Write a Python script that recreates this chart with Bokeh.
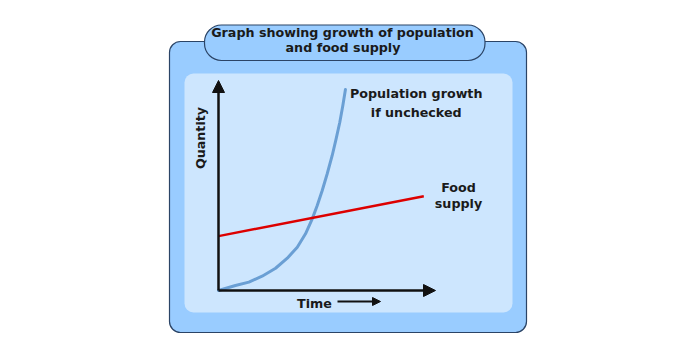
import math
from bokeh.plotting import figure
from bokeh.models import Range1d, BoxAnnotation, Arrow, NormalHead
from bokeh.core.properties import value
from bokeh.embed import file_html
from bokeh.resources import INLINE

# ---- data (chart units: time 0..10 along x-axis, quantity 0..10 up y-axis) ----
pop_time = [0.0, 0.78, 1.40, 2.01, 2.63, 3.17, 3.63, 4.01, 4.32, 4.55, 4.78, 5.01, 5.24, 5.42, 5.59, 5.73, 5.85]
pop_qty = [0.0, 0.24, 0.40, 0.68, 1.06, 1.54, 2.06, 2.70, 3.41, 4.05, 4.76, 5.56, 6.43, 7.22, 8.01, 8.81, 9.57]
food_time = [0.0, 9.46]
food_qty = [2.59, 4.49]
axis_end = [10.0, 10.0]

title_lines = ["Graph showing growth of population", "and food supply"]
pop_label = ["Population growth", "if unchecked"]
food_label = ["Food", "supply"]
x_label = "Time"
y_label = "Quantity"

# ---- layout (page pixel frame) ----
W, H = 665, 345
FONT = value("DejaVu Sans")
FS = "12.7px"

p = figure(width=W, height=H, x_range=Range1d(0, W), y_range=Range1d(H, 0),
           x_axis_location=None, y_axis_location=None, min_border=0,
           toolbar_location=None, output_backend="svg")
p.grid.visible = False
p.outline_line_color = None
p.background_fill_color = "white"
p.border_fill_color = "white"

# chart-space ranges: origin at (218, 290), 21.7 px per time unit, 21 px per quantity unit
ox, oy, sx, sy = 218.0, 290.0, 21.7, 21.0
p.extra_x_ranges = {"chart": Range1d((0 - ox) / sx, (W - ox) / sx)}
p.extra_y_ranges = {"chart": Range1d((oy - H) / sy, (oy - 0) / sy)}

# boxes
p.add_layout(BoxAnnotation(left=169, right=526, top=41, bottom=332, border_radius=11,
                           fill_color="#99ccff", fill_alpha=1, line_color="#2b4466",
                           line_alpha=1, line_width=1.2, level="underlay"))
p.add_layout(BoxAnnotation(left=184, right=512, top=73, bottom=312, border_radius=9,
                           fill_color="#cde6fe", fill_alpha=1, line_color=None,
                           level="underlay"))
p.add_layout(BoxAnnotation(left=204, right=484.5, top=24.5, bottom=60, border_radius=17,
                           fill_color="#99ccff", fill_alpha=1, line_color="#2b4466",
                           line_alpha=1, line_width=1.2, level="underlay"))

# curves
p.line(pop_time, pop_qty, x_range_name="chart", y_range_name="chart",
       line_color="#6a9fd4", line_width=3, line_join="round", line_cap="round")
p.line(food_time, food_qty, x_range_name="chart", y_range_name="chart",
       line_color="#dd0000", line_width=2.5)

# axes with arrow heads
p.add_layout(Arrow(x_start=0, y_start=0, x_end=0, y_end=axis_end[1],
                   x_range_name="chart", y_range_name="chart",
                   line_color="#111111", line_width=2.5,
                   end=NormalHead(size=12, fill_color="#111111", line_color="#111111")))
p.add_layout(Arrow(x_start=0, y_start=0, x_end=axis_end[0], y_end=0,
                   x_range_name="chart", y_range_name="chart",
                   line_color="#111111", line_width=2.5,
                   end=NormalHead(size=12, fill_color="#111111", line_color="#111111")))

# time arrow
p.add_layout(Arrow(x_start=337, y_start=301, x_end=380, y_end=301,
                   line_color="#111111", line_width=2,
                   end=NormalHead(size=8, fill_color="#111111", line_color="#111111")))

def label(x, y, t, angle=0.0):
    p.text(x=[x], y=[y], text=[t], angle=angle, text_align="center",
           text_baseline="alphabetic", text_font=FONT, text_font_style="bold",
           text_font_size=FS, text_color="#1a1a1a")

label(342, 31.5, title_lines[0])
label(342.5, 46.5, title_lines[1])
label(415.7, 92.5, pop_label[0])
label(415.7, 112, pop_label[1])
label(458, 186.5, food_label[0])
label(458, 202.5, food_label[1])
label(314, 302.5, x_label)
label(199.5, 137.5, y_label, angle=math.pi / 2)

open("out.html", "w").write(file_html(p, INLINE))
